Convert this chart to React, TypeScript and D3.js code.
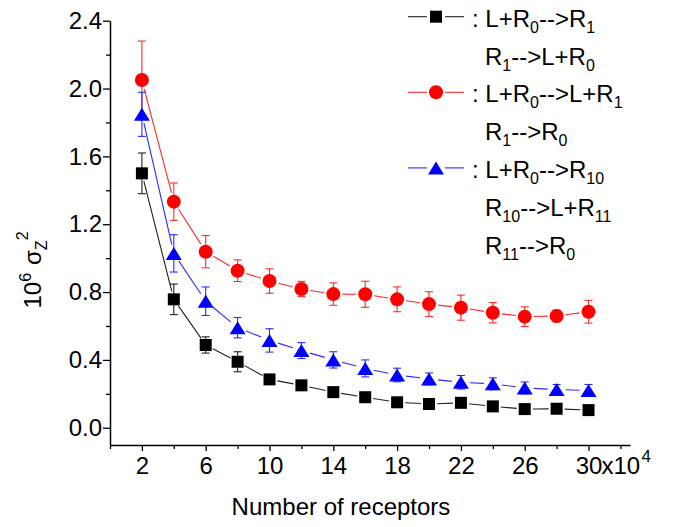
import React, { useEffect, useRef } from 'react';
import * as d3 from 'd3';

// number of receptors (x10^4)
const receptors = [2, 4, 6, 8, 10, 12, 14, 16, 18, 20, 22, 24, 26, 28, 30];

// 10^6 sigma_Z^2 for each scheme, with error bar half-heights
const blackVals = [1.5, 0.757, 0.488, 0.389, 0.285, 0.25, 0.21, 0.18, 0.15, 0.14, 0.147, 0.126, 0.11, 0.112, 0.104];
const blackErr = [0.12, 0.09, 0.048, 0.059, 0.02, 0.015, 0.015, 0.015, 0.015, 0.015, 0.015, 0.015, 0.015, 0.015, 0.015];
const redVals = [2.05, 1.333, 1.038, 0.926, 0.865, 0.818, 0.788, 0.787, 0.757, 0.729, 0.708, 0.678, 0.655, 0.659, 0.684];
const redErr = [0.23, 0.11, 0.095, 0.064, 0.072, 0.045, 0.066, 0.077, 0.073, 0.073, 0.074, 0.06, 0.058, 0.035, 0.067];
const blueVals = [1.848, 1.028, 0.746, 0.59, 0.515, 0.455, 0.4, 0.35, 0.311, 0.288, 0.268, 0.259, 0.235, 0.225, 0.22];
const blueErr = [0.13, 0.11, 0.084, 0.06, 0.069, 0.047, 0.048, 0.05, 0.04, 0.035, 0.04, 0.035, 0.035, 0.03, 0.035];

const xTicks = [2, 6, 10, 14, 18, 22, 26, 30];
const xMinor = [0, 4, 8, 12, 16, 20, 24, 28, 32];
const yTicks = [0, 0.4, 0.8, 1.2, 1.6, 2.0, 2.4];
const yMinor = [0.2, 0.6, 1.0, 1.4, 1.8, 2.2];

// legend lines: [text, isSub] parts
const legendBlack = [
  [[': L+R', false], ['0', true], ['-->R', false], ['1', true]],
  [['R', false], ['1', true], ['-->L+R', false], ['0', true]],
];
const legendRed = [
  [[': L+R', false], ['0', true], ['-->L+R', false], ['1', true]],
  [['R', false], ['1', true], ['-->R', false], ['0', true]],
];
const legendBlue = [
  [[': L+R', false], ['0', true], ['-->R', false], ['10', true]],
  [['R', false], ['10', true], ['-->L+R', false], ['11', true]],
  [['R', false], ['11', true], ['-->R', false], ['0', true]],
];

const FONT = 'Arial, "Liberation Sans", sans-serif';

export default function App() {
  const ref = useRef<SVGSVGElement>(null);

  useEffect(() => {
    const svg = d3.select(ref.current);
    svg.selectAll('*').remove();

    const x = d3.scaleLinear().domain([0, 32.6]).range([110, 630]);
    const y = d3.scaleLinear().domain([-0.1, 2.4]).range([444.7, 20.7]);

    const series = [
      { vals: blackVals, err: blackErr, line: '#222', fill: '#000', shape: 'square', gap: 8 },
      { vals: redVals, err: redErr, line: '#ff2a2a', fill: '#ff0000', shape: 'circle', gap: 9 },
      { vals: blueVals, err: blueErr, line: '#2a2aff', fill: '#0000ff', shape: 'triangle', gap: 9 },
    ];

    const drawMarker = (g: any, shape: string, cx: number, cy: number, fill: string) => {
      if (shape === 'square') {
        g.append('rect').attr('x', cx - 6).attr('y', cy - 6).attr('width', 12).attr('height', 12).attr('fill', fill);
      } else if (shape === 'circle') {
        g.append('circle').attr('cx', cx).attr('cy', cy).attr('r', 7).attr('fill', fill);
      } else {
        g.append('path')
          .attr('d', `M${cx},${cy - 6.5}L${cx + 8},${cy + 6.5}L${cx - 8},${cy + 6.5}Z`)
          .attr('fill', fill);
      }
    };

    // axes
    const yAxis = svg.append('g').attr('transform', 'translate(110,0)')
      .call(d3.axisLeft(y).tickValues(yTicks).tickSize(7).tickSizeOuter(0).tickPadding(1)
        .tickFormat(d3.format('.1f')));
    svg.append('g').attr('transform', 'translate(110,0)')
      .call(d3.axisLeft(y).tickValues(yMinor).tickSize(4).tickFormat(() => ''))
      .select('.domain').remove();

    const xAxis = svg.append('g').attr('transform', 'translate(0,445)')
      .call(d3.axisBottom(x).tickValues(xTicks).tickSize(6).tickSizeOuter(0).tickPadding(6)
        .tickFormat(d3.format('d')));
    svg.append('g').attr('transform', 'translate(0,445)')
      .call(d3.axisBottom(x).tickValues(xMinor).tickSize(4).tickFormat(() => ''))
      .select('.domain').remove();

    svg.selectAll('.domain').attr('stroke', '#000').attr('stroke-width', 1.5);
    svg.selectAll('.tick line').attr('stroke', '#000').attr('stroke-width', 1.3);
    [yAxis, xAxis].forEach(a => a.selectAll('text')
      .attr('font-family', FONT).attr('font-size', 24).attr('fill', '#000'));

    // "x10^4" after the last tick label
    svg.append('text').attr('x', x(30) + 13).attr('y', 474)
      .attr('font-family', FONT).attr('font-size', 24).text('x10');
    svg.append('text').attr('x', x(30) + 53).attr('y', 462)
      .attr('font-family', FONT).attr('font-size', 17).text('4');

    // axis titles
    svg.append('text').attr('x', 341).attr('y', 515).attr('text-anchor', 'middle')
      .attr('font-family', FONT).attr('font-size', 24).text('Number of receptors');

    const yl = svg.append('text').attr('transform', 'translate(41,270) rotate(-90)')
      .attr('text-anchor', 'middle').attr('font-family', FONT).attr('font-size', 24);
    yl.append('tspan').text('10');
    yl.append('tspan').attr('font-size', 16).attr('dy', -10).text('6');
    yl.append('tspan').attr('dy', 10).attr('dx', 8).text('σ');
    yl.append('tspan').attr('font-size', 16).attr('dy', 6).text('Z');
    yl.append('tspan').attr('font-size', 16).attr('dy', -19).text('2');

    // lines (with gaps around markers), error bars, markers
    series.forEach(s => {
      const g = svg.append('g');
      const pts = receptors.map((r, i) => [x(r), y(s.vals[i])]);
      for (let i = 0; i < pts.length - 1; i++) {
        const [x0, y0] = pts[i];
        const [x1, y1] = pts[i + 1];
        const len = Math.hypot(x1 - x0, y1 - y0);
        if (len <= 2 * s.gap) continue;
        const ux = (x1 - x0) / len, uy = (y1 - y0) / len;
        g.append('path')
          .attr('d', d3.line()([[x0 + ux * s.gap, y0 + uy * s.gap], [x1 - ux * s.gap, y1 - uy * s.gap]]))
          .attr('stroke', s.line).attr('stroke-width', 1.1).attr('fill', 'none');
      }
      receptors.forEach((r, i) => {
        const cx = x(r);
        const top = y(s.vals[i] + s.err[i]);
        const bot = y(s.vals[i] - s.err[i]);
        g.append('line').attr('x1', cx).attr('x2', cx).attr('y1', top).attr('y2', bot)
          .attr('stroke', s.line).attr('stroke-width', 1.1);
        [top, bot].forEach(yy => g.append('line').attr('x1', cx - 4).attr('x2', cx + 4)
          .attr('y1', yy).attr('y2', yy).attr('stroke', s.line).attr('stroke-width', 1.1));
      });
      pts.forEach(([cx, cy]) => drawMarker(g, s.shape, cx, cy, s.fill));
    });

    // legend
    const legend = svg.append('g');
    const step = 37.8;
    const groups = [
      { lines: legendBlack, s: series[0], start: 0 },
      { lines: legendRed, s: series[1], start: 2 },
      { lines: legendBlue, s: series[2], start: 4 },
    ];
    groups.forEach(grp => {
      const base0 = 26.7 + grp.start * step;
      const my = base0 - 10;
      legend.append('line').attr('x1', 408).attr('x2', 427).attr('y1', my).attr('y2', my)
        .attr('stroke', grp.s.line).attr('stroke-width', 1.1);
      legend.append('line').attr('x1', 445).attr('x2', 464).attr('y1', my).attr('y2', my)
        .attr('stroke', grp.s.line).attr('stroke-width', 1.1);
      drawMarker(legend, grp.s.shape, 436, my, grp.s.fill);
      grp.lines.forEach((parts, li) => {
        const t = legend.append('text')
          .attr('x', li === 0 ? 472 : 485).attr('y', base0 + li * step)
          .attr('font-family', FONT).attr('font-size', 24).attr('fill', '#000');
        let shifted = false;
        parts.forEach(([txt, sub]) => {
          const ts = t.append('tspan').text(txt as string);
          if (sub && !shifted) { ts.attr('dy', 6).attr('font-size', 16); shifted = true; }
          else if (sub) ts.attr('font-size', 16);
          else if (shifted) { ts.attr('dy', -6); shifted = false; }
        });
      });
    });
  }, []);

  return (
    <svg ref={ref} width={681} height={527}
      style={{ position: 'absolute', left: 0, top: 0, background: '#fff' }} />
  );
}
